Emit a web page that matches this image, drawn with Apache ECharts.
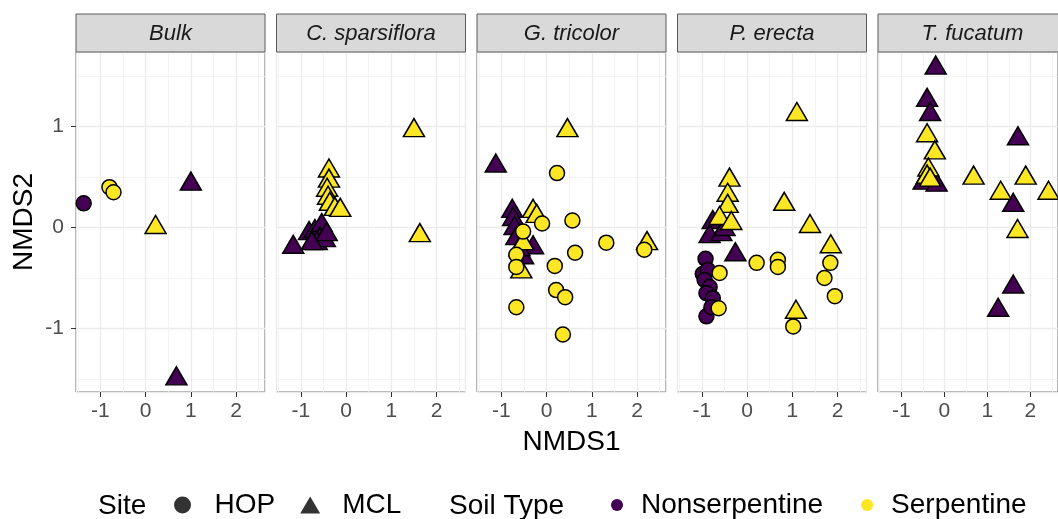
<!DOCTYPE html>
<html>
<head>
<meta charset="utf-8">
<script src="https://cdn.jsdelivr.net/npm/echarts@6/dist/echarts.min.js"></script>
<style>
html,body{margin:0;padding:0;background:#fff;}
#chart{width:1058px;height:519px;}
</style>
</head>
<body>
<div id="chart"></div>
<script>
// ---- data (NMDS1, NMDS2, Site, Soil Type) ----
const panelNames = ['Bulk', 'C. sparsiflora', 'G. tricolor', 'P. erecta', 'T. fucatum'];
const siteNames = ['HOP', 'MCL'];
const soilNames = ['Nonserpentine', 'Serpentine'];
const soilColors = ['#440154', '#FDE725'];

const bulk = [
  [-1.37, 0.24, 'HOP', 'Nonserpentine'],
  [-0.80, 0.40, 'HOP', 'Serpentine'],
  [-0.71, 0.35, 'HOP', 'Serpentine'],
  [0.22, 0.03, 'MCL', 'Serpentine'],
  [1.00, 0.46, 'MCL', 'Nonserpentine'],
  [0.68, -1.47, 'MCL', 'Nonserpentine']
];
const cSparsiflora = [
  [-1.17, -0.165, 'MCL', 'Nonserpentine'],
  [-0.82, -0.03, 'MCL', 'Nonserpentine'],
  [-0.69, -0.01, 'MCL', 'Nonserpentine'],
  [-0.54, 0.05, 'MCL', 'Nonserpentine'],
  [-0.58, -0.09, 'MCL', 'Nonserpentine'],
  [-0.65, -0.13, 'MCL', 'Nonserpentine'],
  [-0.47, -0.10, 'MCL', 'Nonserpentine'],
  [-0.76, -0.13, 'MCL', 'Nonserpentine'],
  [-0.43, -0.04, 'MCL', 'Nonserpentine'],
  [1.50, 0.99, 'MCL', 'Serpentine'],
  [1.63, -0.05, 'MCL', 'Serpentine'],
  [-0.38, 0.59, 'MCL', 'Serpentine'],
  [-0.38, 0.49, 'MCL', 'Serpentine'],
  [-0.42, 0.40, 'MCL', 'Serpentine'],
  [-0.40, 0.32, 'MCL', 'Serpentine'],
  [-0.36, 0.26, 'MCL', 'Serpentine'],
  [-0.25, 0.21, 'MCL', 'Serpentine'],
  [-0.13, 0.20, 'MCL', 'Serpentine']
];
const gTricolor = [
  [-1.125, 0.64, 'MCL', 'Nonserpentine'],
  [-0.76, 0.19, 'MCL', 'Nonserpentine'],
  [-0.74, 0.11, 'MCL', 'Nonserpentine'],
  [-0.71, 0.02, 'MCL', 'Nonserpentine'],
  [-0.67, -0.08, 'MCL', 'Nonserpentine'],
  [-0.30, -0.17, 'MCL', 'Nonserpentine'],
  [-0.52, -0.27, 'MCL', 'Nonserpentine'],
  [-0.60, -0.19, 'MCL', 'Nonserpentine'],
  [0.46, 0.99, 'MCL', 'Serpentine'],
  [-0.30, 0.19, 'MCL', 'Serpentine'],
  [-0.22, 0.14, 'MCL', 'Serpentine'],
  [-0.52, -0.13, 'MCL', 'Serpentine'],
  [-0.56, -0.41, 'MCL', 'Serpentine'],
  [2.22, -0.13, 'MCL', 'Serpentine'],
  [0.23, 0.54, 'HOP', 'Serpentine'],
  [-0.10, 0.04, 'HOP', 'Serpentine'],
  [0.57, 0.07, 'HOP', 'Serpentine'],
  [-0.52, -0.04, 'HOP', 'Serpentine'],
  [-0.67, -0.27, 'HOP', 'Serpentine'],
  [-0.67, -0.39, 'HOP', 'Serpentine'],
  [1.32, -0.15, 'HOP', 'Serpentine'],
  [2.16, -0.22, 'HOP', 'Serpentine'],
  [0.63, -0.25, 'HOP', 'Serpentine'],
  [0.18, -0.38, 'HOP', 'Serpentine'],
  [0.21, -0.62, 'HOP', 'Serpentine'],
  [0.41, -0.69, 'HOP', 'Serpentine'],
  [-0.67, -0.79, 'HOP', 'Serpentine'],
  [0.36, -1.06, 'HOP', 'Serpentine']
];
const pErecta = [
  [-0.76, 0.08, 'MCL', 'Nonserpentine'],
  [-0.83, -0.06, 'MCL', 'Nonserpentine'],
  [-0.57, -0.04, 'MCL', 'Nonserpentine'],
  [-0.50, 0.01, 'MCL', 'Nonserpentine'],
  [-0.26, -0.24, 'MCL', 'Nonserpentine'],
  [-0.92, -0.31, 'HOP', 'Nonserpentine'],
  [-0.98, -0.46, 'HOP', 'Nonserpentine'],
  [-0.87, -0.42, 'HOP', 'Nonserpentine'],
  [-0.94, -0.52, 'HOP', 'Nonserpentine'],
  [-0.83, -0.59, 'HOP', 'Nonserpentine'],
  [-0.90, -0.65, 'HOP', 'Nonserpentine'],
  [-0.76, -0.70, 'HOP', 'Nonserpentine'],
  [-0.90, -0.88, 'HOP', 'Nonserpentine'],
  [-0.79, -0.79, 'HOP', 'Nonserpentine'],
  [1.10, 1.15, 'MCL', 'Serpentine'],
  [-0.39, 0.50, 'MCL', 'Serpentine'],
  [-0.43, 0.35, 'MCL', 'Serpentine'],
  [-0.43, 0.24, 'MCL', 'Serpentine'],
  [-0.61, 0.12, 'MCL', 'Serpentine'],
  [-0.35, 0.07, 'MCL', 'Serpentine'],
  [0.82, 0.26, 'MCL', 'Serpentine'],
  [1.39, 0.04, 'MCL', 'Serpentine'],
  [1.85, -0.16, 'MCL', 'Serpentine'],
  [1.08, -0.81, 'MCL', 'Serpentine'],
  [0.21, -0.35, 'HOP', 'Serpentine'],
  [0.68, -0.32, 'HOP', 'Serpentine'],
  [0.68, -0.39, 'HOP', 'Serpentine'],
  [1.84, -0.35, 'HOP', 'Serpentine'],
  [1.71, -0.50, 'HOP', 'Serpentine'],
  [1.94, -0.68, 'HOP', 'Serpentine'],
  [1.02, -0.98, 'HOP', 'Serpentine'],
  [-0.61, -0.45, 'HOP', 'Serpentine'],
  [-0.63, -0.80, 'HOP', 'Serpentine']
];
const tFucatum = [
  [-0.20, 1.61, 'MCL', 'Nonserpentine'],
  [-0.40, 1.29, 'MCL', 'Nonserpentine'],
  [-0.33, 1.15, 'MCL', 'Nonserpentine'],
  [-0.48, 0.47, 'MCL', 'Nonserpentine'],
  [-0.18, 0.45, 'MCL', 'Nonserpentine'],
  [1.71, 0.91, 'MCL', 'Nonserpentine'],
  [1.60, 0.25, 'MCL', 'Nonserpentine'],
  [1.60, -0.56, 'MCL', 'Nonserpentine'],
  [1.25, -0.79, 'MCL', 'Nonserpentine'],
  [-0.40, 0.94, 'MCL', 'Serpentine'],
  [-0.22, 0.77, 'MCL', 'Serpentine'],
  [-0.37, 0.60, 'MCL', 'Serpentine'],
  [-0.40, 0.53, 'MCL', 'Serpentine'],
  [-0.33, 0.50, 'MCL', 'Serpentine'],
  [0.68, 0.52, 'MCL', 'Serpentine'],
  [1.89, 0.52, 'MCL', 'Serpentine'],
  [2.42, 0.37, 'MCL', 'Serpentine'],
  [1.31, 0.37, 'MCL', 'Serpentine'],
  [1.70, -0.01, 'MCL', 'Serpentine']
];
const panelData = [bulk, cSparsiflora, gTricolor, pErecta, tFucatum];

// ---- layout ----
const FONT = '"Liberation Sans", Arial, sans-serif';
const panelLeft0 = 76, panelStep = 200.5, panelW = 189;
const panelTop = 52, panelH = 340, stripTop = 14;
const xMin = -1.54, xMax = 2.64, yMin = -1.63, yMax = 1.74;

const grids = [], xAxes = [], yAxes = [], series = [], graphics = [];
const intLabel = v => (Math.abs(v - Math.round(v)) < 1e-9 ? String(Math.round(v)) : '');

panelNames.forEach((name, i) => {
  const left = panelLeft0 + i * panelStep;
  grids.push({
    left: left, top: panelTop, width: panelW, height: panelH,
    show: true, borderColor: '#5a5a5a', borderWidth: 1, backgroundColor: '#fff',
    containLabel: false
  });
  xAxes.push({
    type: 'value', gridIndex: i, min: xMin, max: xMax, splitNumber: 4, position: 'bottom',
    axisLine: { show: false, onZero: false },
    axisTick: { show: true, length: 5, lineStyle: { color: '#333', width: 1 } },
    axisLabel: { color: '#4d4d4d', fontSize: 21, fontFamily: FONT, margin: 9,
                 showMinLabel: false, showMaxLabel: false, formatter: intLabel },
    splitLine: { show: true, lineStyle: { color: '#ebebeb', width: 1.3 } },
    minorTick: { show: false, splitNumber: 2 },
    minorSplitLine: { show: true, lineStyle: { color: '#f1f1f1', width: 0.8 } },
    name: i === 2 ? 'NMDS1' : '',
    nameLocation: 'middle', nameGap: 36,
    nameTextStyle: { fontSize: 28, color: '#000', fontFamily: FONT }
  });
  yAxes.push({
    type: 'value', gridIndex: i, min: yMin, max: yMax, splitNumber: 4, position: 'left',
    axisLine: { show: false, onZero: false },
    axisTick: { show: i === 0, length: 5, lineStyle: { color: '#333', width: 1 } },
    axisLabel: { show: i === 0, color: '#4d4d4d', fontSize: 21, fontFamily: FONT, margin: 12,
                 showMinLabel: false, showMaxLabel: false, formatter: intLabel },
    splitLine: { show: true, lineStyle: { color: '#ebebeb', width: 1.3 } },
    minorTick: { show: false, splitNumber: 2 },
    minorSplitLine: { show: true, lineStyle: { color: '#f1f1f1', width: 0.8 } },
    name: i === 0 ? 'NMDS2' : '',
    nameLocation: 'middle', nameGap: 38, nameRotate: 90,
    nameTextStyle: { fontSize: 28, color: '#000', fontFamily: FONT }
  });
  soilNames.forEach((soil, s) => {
    series.push({
      type: 'scatter', name: soil, xAxisIndex: i, yAxisIndex: i,
      data: panelData[i].filter(d => d[3] === soil).map(d => [d[0], d[1], d[2]]),
      symbol: v => (v[2] === 'HOP' ? 'circle' : 'triangle'),
      symbolSize: v => (v[2] === 'HOP' ? 15 : [21, 18]),
      itemStyle: { color: soilColors[s], borderColor: '#000', borderWidth: 1.5, opacity: 1 },
      emphasis: { disabled: true },
      z: 3 + s, silent: true, animation: false
    });
  });
  graphics.push({
    type: 'rect', silent: true, z: 10,
    shape: { x: left, y: stripTop, width: panelW, height: panelTop - stripTop },
    style: { fill: '#d9d9d9', stroke: '#5a5a5a', lineWidth: 1 }
  });
  graphics.push({
    type: 'text', silent: true, z: 11,
    style: { text: name, x: left + panelW / 2, y: (stripTop + panelTop) / 2 + 1,
             align: 'center', verticalAlign: 'middle',
             fontSize: 22, fontStyle: 'italic', fontFamily: FONT, fill: '#1a1a1a' }
  });
});

// legend-only series for Site shapes
siteNames.forEach((site, k) => {
  series.push({ type: 'scatter', name: site, xAxisIndex: 0, yAxisIndex: 0, data: [],
    symbol: k === 0 ? 'circle' : 'triangle', itemStyle: { color: '#000' } });
});

graphics.push({ type: 'text', silent: true,
  style: { text: 'Site', x: 98, y: 506, verticalAlign: 'middle', fontSize: 28, fontFamily: FONT, fill: '#000' } });
graphics.push({ type: 'text', silent: true,
  style: { text: 'Soil Type', x: 449, y: 506, verticalAlign: 'middle', fontSize: 28, fontFamily: FONT, fill: '#000' } });

const legendText = { fontSize: 28, color: '#000', fontFamily: FONT, rich: { g: { width: 17 } } };
const legendText2 = { fontSize: 28, color: '#000', fontFamily: FONT, rich: { g: { width: 13 } } };

const option = {
  animation: false,
  backgroundColor: '#fff',
  grid: grids, xAxis: xAxes, yAxis: yAxes, series: series,
  graphic: graphics,
  legend: [
    { data: [{ name: 'HOP', icon: 'circle' }, { name: 'MCL', icon: 'triangle' }],
      left: 169, top: 486, itemWidth: 20, itemHeight: 17, itemGap: 25,
      selectedMode: false, formatter: n => '{g| }' + n, textStyle: legendText },
    { data: [{ name: 'Nonserpentine', icon: 'circle', itemStyle: { borderWidth: 0 } },
             { name: 'Serpentine', icon: 'circle', itemStyle: { borderWidth: 0 } }],
      left: 606, top: 486, itemWidth: 12, itemHeight: 12, itemGap: 38,
      selectedMode: false, formatter: n => '{g| }' + n, textStyle: legendText2 }
  ]
};

const chart = echarts.init(document.getElementById('chart'), null, { renderer: 'canvas' });
chart.setOption(option);
</script>
</body>
</html>
